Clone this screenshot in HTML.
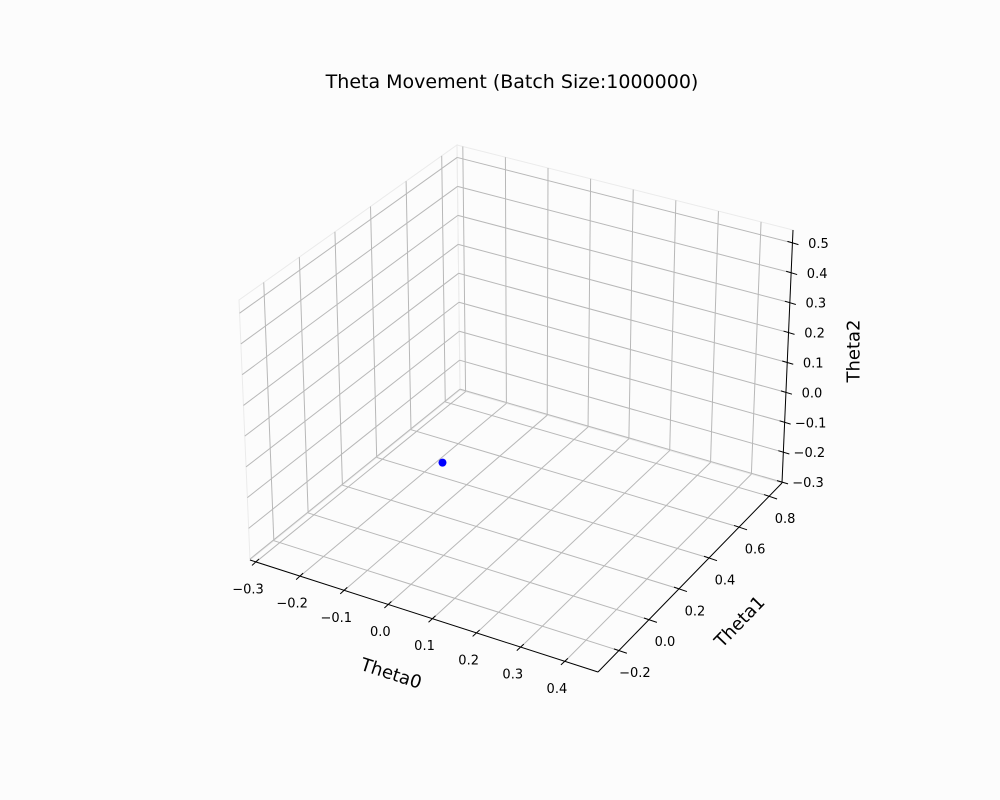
<!DOCTYPE html>
<html><head><meta charset="utf-8"><style>
html,body{margin:0;padding:0;background:#fcfcfc;}
svg{display:block;font-family:"DejaVu Sans","Liberation Sans",sans-serif;}
</style></head><body>
<svg id="chart" width="1000" height="800" viewBox="0 0 1000 800">
<rect width="1000" height="800" fill="#fcfcfc"/>
<text x="512" y="88" font-size="19" text-anchor="middle" fill="#000">Theta Movement (Batch Size:1000000)</text>
<g id="panes"></g><g id="grid"></g><g id="axes"></g><g id="marks"></g>
</svg>
<script>
const xTicks = [-0.3,-0.2,-0.1,0.0,0.1,0.2,0.3,0.4];
const yTicks = [-0.2,0.0,0.2,0.4,0.6,0.8];
const zTicks = [-0.3,-0.2,-0.1,0.0,0.1,0.2,0.3,0.4,0.5];
const theta0 = [0.0];
const theta1 = [0.0];
const theta2 = [0.0];

const NS = "http://www.w3.org/2000/svg";
const xmin=-0.3136,xmax=0.475,ymin=-0.339,ymax=0.886,zmin=-0.303,zmax=0.543;
const A=[250,560],B=[598,672],C=[782,483],D=[460,390];
const A2=[239,300],B2=[601,404],C2=[793,230],D2=[457,145];
function bil(p00,p10,p11,p01,u,v){
  return [p00[0]*(1-u)*(1-v)+p10[0]*u*(1-v)+p11[0]*u*v+p01[0]*(1-u)*v,
          p00[1]*(1-u)*(1-v)+p10[1]*u*(1-v)+p11[1]*u*v+p01[1]*(1-u)*v];
}
function P(x,y,z){
  const u=(x-xmin)/(xmax-xmin), v=(y-ymin)/(ymax-ymin), w=(z-zmin)/(zmax-zmin);
  const b=bil(A,B,C,D,u,v), t=bil(A2,B2,C2,D2,u,v);
  return [b[0]*(1-w)+t[0]*w, b[1]*(1-w)+t[1]*w];
}
function line(g,p,q,stroke,width,name){
  const l=document.createElementNS(NS,"line");
  l.setAttribute("x1",p[0]);l.setAttribute("y1",p[1]);l.setAttribute("x2",q[0]);l.setAttribute("y2",q[1]);
  l.setAttribute("stroke",stroke);l.setAttribute("stroke-width",width);
  
  
  g.appendChild(l);return l;
}
function text(g,x,y,s,size,name,rot){
  const t=document.createElementNS(NS,"text");
  t.setAttribute("x",x);t.setAttribute("y",y);t.setAttribute("font-size",size);
  t.setAttribute("text-anchor","middle");t.setAttribute("dominant-baseline","central");
  if(rot) t.setAttribute("transform","rotate("+rot+" "+x+" "+y+")");
  t.textContent=s;
  
  
  g.appendChild(t);return t;
}
const fmt=v=>(v<0?"\u2212":"")+Math.abs(v).toFixed(1);
const panes=document.getElementById("panes"),grid=document.getElementById("grid"),axes=document.getElementById("axes"),marks=document.getElementById("marks");
function poly(pts,name){
  const p=document.createElementNS(NS,"polygon");
  p.setAttribute("points",pts.map(q=>q.join(",")).join(" "));
  p.setAttribute("fill","none");p.setAttribute("stroke","#ebebeb");p.setAttribute("stroke-width","1");
  
  
  panes.appendChild(p);
}
poly([P(xmin,ymin,zmin),P(xmax,ymin,zmin),P(xmax,ymax,zmin),P(xmin,ymax,zmin)],"floor-pane");
poly([P(xmin,ymin,zmin),P(xmin,ymax,zmin),P(xmin,ymax,zmax),P(xmin,ymin,zmax)],"left-pane");
poly([P(xmin,ymax,zmin),P(xmax,ymax,zmin),P(xmax,ymax,zmax),P(xmin,ymax,zmax)],"back-pane");
const gc="#b8b8b8";
xTicks.forEach(x=>{
  line(grid,P(x,ymin,zmin),P(x,ymax,zmin),gc,1,"floor-gridline-x");
  line(grid,P(x,ymax,zmin),P(x,ymax,zmax),gc,1,"back-gridline-x");
});
yTicks.forEach(y=>{
  line(grid,P(xmin,y,zmin),P(xmax,y,zmin),gc,1,"floor-gridline-y");
  line(grid,P(xmin,y,zmin),P(xmin,y,zmax),gc,1,"left-gridline-y");
});
zTicks.forEach(z=>{
  line(grid,P(xmin,ymin,z),P(xmin,ymax,z),gc,1,"left-gridline-z");
  line(grid,P(xmin,ymax,z),P(xmax,ymax,z),gc,1,"back-gridline-z");
});
line(axes,P(xmin,ymin,zmin),P(xmax,ymin,zmin),"#000",1,"x-axis-line");
line(axes,P(xmax,ymin,zmin),P(xmax,ymax,zmin),"#000",1,"y-axis-line");
line(axes,P(xmax,ymax,zmin),P(xmax,ymax,zmax),"#000",1,"z-axis-line");
xTicks.forEach(x=>{
  const p=P(x,ymin,zmin);
  line(axes,[p[0]+3,p[1]-3],[p[0]-4,p[1]+3.5],"#000",1,"x-tick");
  text(axes,p[0]-8,p[1]+28,fmt(x),13,"x-tick-label");
});
yTicks.forEach(y=>{
  const p=P(xmax,y,zmin);
  line(axes,[p[0]-5,p[1]-1.7],[p[0]+8,p[1]+2.7],"#000",1,"y-tick");
  text(axes,p[0]+16,p[1]+23,fmt(y),13,"y-tick-label");
});
zTicks.forEach(z=>{
  const p=P(xmax,ymax,z);
  line(axes,[p[0]-5,p[1]-1.5],[p[0]+6,p[1]+1.8],"#000",1,"z-tick");
  text(axes,p[0]+26,p[1]+1.5,fmt(z),13,"z-tick-label");
});
text(axes,391,674,"Theta0",18,"x-axis-title",18);
text(axes,740,622,"Theta1",18,"y-axis-title",-46);
text(axes,854,351,"Theta2",18,"z-axis-title",-90);
for(let i=0;i<theta0.length;i++){
  const p=P(theta0[i],theta1[i],theta2[i]);
  const c=document.createElementNS(NS,"circle");
  c.setAttribute("cx",p[0]);c.setAttribute("cy",p[1]);c.setAttribute("r",4);c.setAttribute("fill","#0000ff");
  
  
  marks.appendChild(c);
}
</script>
</body></html>
